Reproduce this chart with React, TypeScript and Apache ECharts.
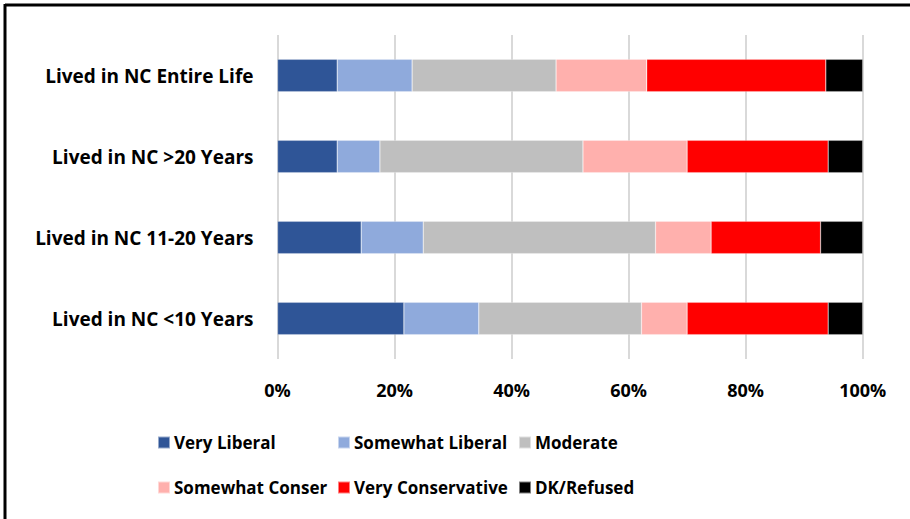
import React, { useEffect, useRef } from "react";
import * as echarts from "echarts";

const categories = [
  "Lived in NC Entire Life",
  "Lived in NC >20 Years",
  "Lived in NC 11-20 Years",
  "Lived in NC <10 Years",
];
const seriesNames = [
  "Very Liberal",
  "Somewhat Liberal",
  "Moderate",
  "Somewhat Conser",
  "Very Conservative",
  "DK/Refused",
];
const veryLiberal = [10.2, 10.2, 14.3, 21.6];
const somewhatLiberal = [12.8, 7.3, 10.6, 12.8];
const moderate = [24.6, 34.7, 39.7, 27.8];
const somewhatConser = [15.5, 17.8, 9.5, 7.8];
const veryConservative = [30.6, 24.1, 18.7, 24.1];
const dkRefused = [6.3, 5.9, 7.2, 5.9];
const xTicks = [0, 20, 40, 60, 80, 100];

const seriesValues = [veryLiberal, somewhatLiberal, moderate, somewhatConser, veryConservative, dkRefused];
const colors = ["#2F5597", "#8FAADC", "#BFBFBF", "#FFB0AD", "#FF0000", "#000000"];
const legendPos = [
  { left: 157, top: 434 },
  { left: 337, top: 434 },
  { left: 518, top: 434 },
  { left: 157, top: 479 },
  { left: 337, top: 479 },
  { left: 518, top: 479 },
];

const FONT = "'Open Sans', 'Liberation Sans', sans-serif";

export default function App() {
  const ref = useRef<HTMLDivElement>(null);
  useEffect(() => {
    if (!ref.current) return;
    const chart = echarts.init(ref.current, null, { renderer: "svg" });
    chart.setOption({
      animation: false,
      backgroundColor: "#ffffff",
      textStyle: { fontFamily: FONT },
      grid: { left: 277.5, right: 910 - 862.7, top: 35, bottom: 519 - 359, containLabel: false },
      xAxis: {
        type: "value",
        min: 0,
        max: 100,
        interval: 20,
        axisLine: { show: false },
        axisTick: { show: false },
        splitLine: { show: true, lineStyle: { color: "#D9D9D9", width: 2 } },
        axisLabel: {
          formatter: (v: number) => (xTicks.includes(v) ? v + "%" : ""),
          color: "#000",
          fontSize: 18,
          fontWeight: "bold",
          fontFamily: FONT,
          margin: 22,
        },
      },
      yAxis: {
        type: "category",
        inverse: true,
        data: categories,
        axisLine: { show: false },
        axisTick: { show: false },
        axisLabel: {
          color: "#000",
          fontSize: 19,
          fontWeight: "bold",
          fontFamily: FONT,
          margin: 24,
        },
      },
      legend: seriesNames.map((n, i) => ({
        data: [n],
        left: legendPos[i].left,
        top: legendPos[i].top,
        itemWidth: 12,
        itemHeight: 12,
        itemGap: 0,
        icon: "rect",
        padding: 0,
        textStyle: { color: "#000", fontSize: 17, fontWeight: "bold", fontFamily: FONT, padding: [0, 0, 0, -1] },
      })),
      series: seriesNames.map((n, i) => ({
        name: n,
        type: "bar",
        stack: "total",
        barWidth: "40%",
        data: seriesValues[i],
        itemStyle: { color: colors[i], borderColor: "rgba(255,255,255,0.5)", borderWidth: 0.5 },
      })),
      graphic: [
        { type: "line", shape: { x1: 5, y1: 5, x2: 910, y2: 5 }, style: { stroke: "#000", lineWidth: 3 } },
        { type: "line", shape: { x1: 5, y1: 4, x2: 5, y2: 519 }, style: { stroke: "#000", lineWidth: 3 } },
      ],
    });
    return () => chart.dispose();
  }, []);
  return (
    <div
      ref={ref}
      style={{ position: "fixed", left: 0, top: 0, width: 910, height: 519 }}
    />
  );
}
